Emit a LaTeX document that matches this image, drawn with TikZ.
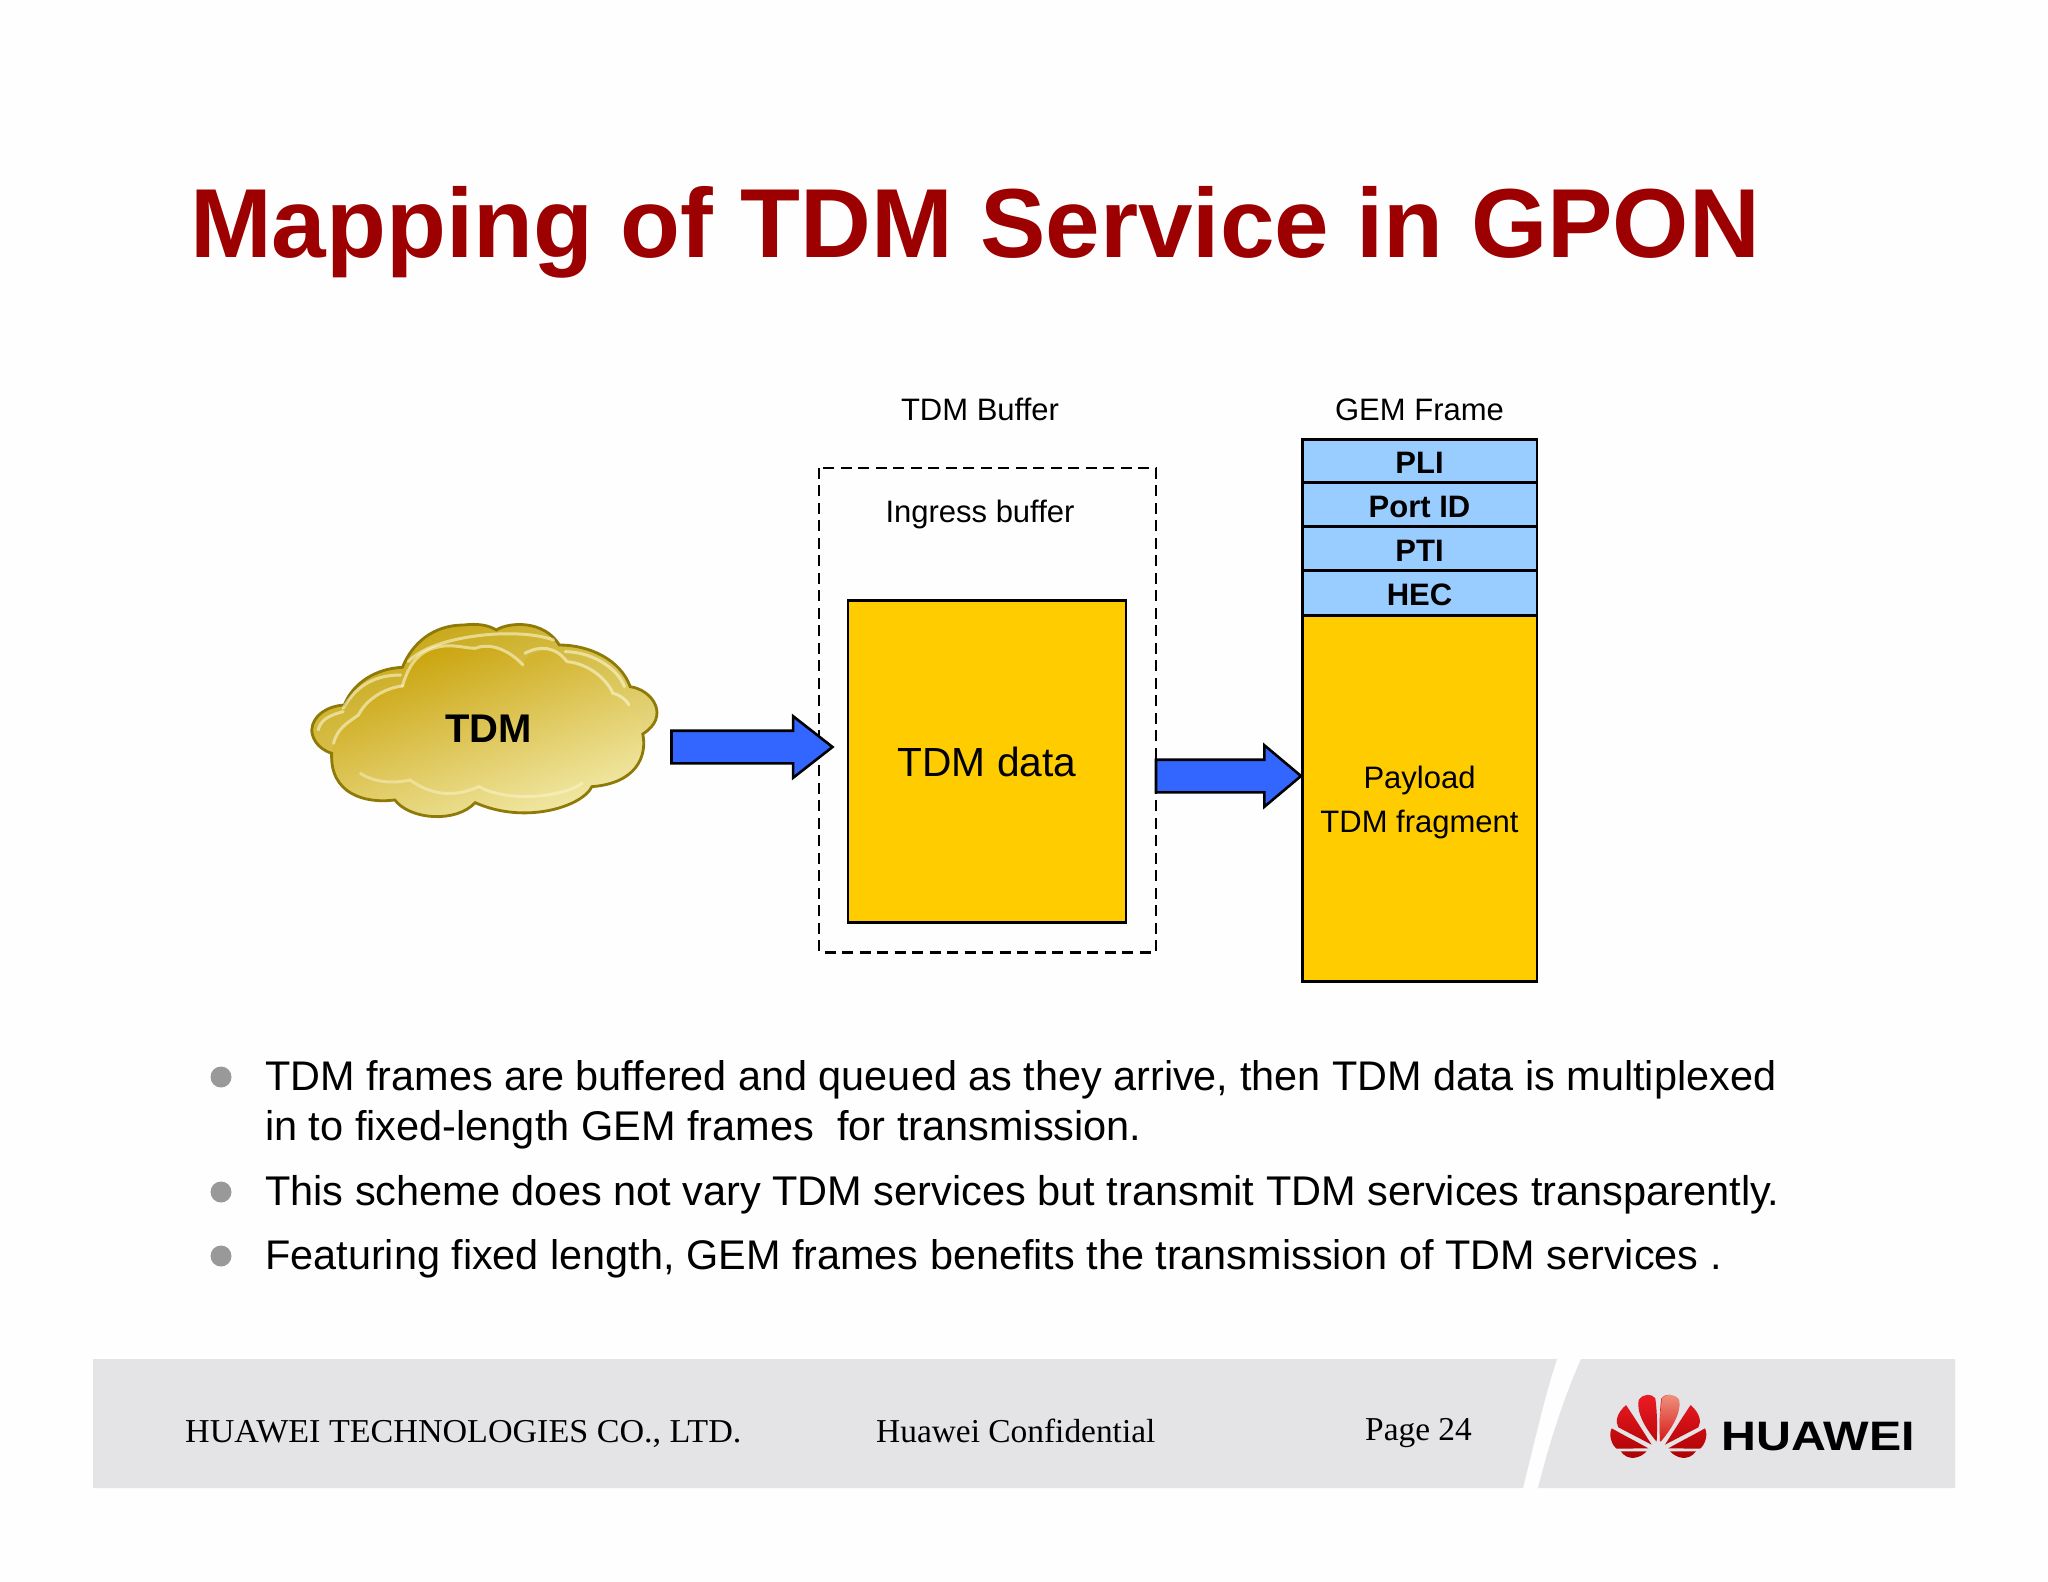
\documentclass[tikz,border=0pt]{standalone}
\usepackage{fontspec}
\setmainfont{Liberation Sans}
\newfontfamily\timesfont{Liberation Serif}
\usetikzlibrary{shapes.arrows}
\definecolor{titlered}{HTML}{9C0000}
\definecolor{gold}{HTML}{FFCC00}
\definecolor{skyb}{HTML}{99CCFF}
\definecolor{blockb}{HTML}{3366FF}
\definecolor{band}{HTML}{E4E3E6}
\definecolor{cloudline}{HTML}{8F7A08}
\definecolor{cloudA}{HTML}{C6A512}
\definecolor{cloudB}{HTML}{F0E7A4}
\definecolor{cloudC}{HTML}{C9A208}
\definecolor{cloudD}{HTML}{EEE394}
\definecolor{cloudE}{HTML}{F3ECAE}
\definecolor{cloudH}{HTML}{FFFDE0}
\definecolor{logoA}{HTML}{EE1C25}
\definecolor{logoB}{HTML}{A80000}
\definecolor{logoC}{HTML}{EE9580}
\definecolor{logoD}{HTML}{D81818}
\newcommand\fsz[1]{\fontsize{#1}{#1}\selectfont}
\newcommand\cloudOutline{(83,450) .. controls (85,405) and (125,378) .. (168,375)
  .. controls (190,310) and (250,265) .. (320,262)
  .. controls (345,190) and (400,135) .. (480,135)
  .. controls (515,130) and (545,135) .. (565,150)
  .. controls (600,125) and (690,120) .. (730,195)
  .. controls (810,195) and (890,240) .. (915,320)
  .. controls (975,330) and (1020,410) .. (948,462)
  .. controls (960,530) and (930,610) .. (815,620)
  .. controls (790,680) and (640,735) .. (510,668)
  .. controls (460,730) and (340,720) .. (300,660)
  .. controls (220,672) and (130,640) .. (135,520)
  .. controls (95,505) and (83,470) .. (83,450) -- cycle}
\newcommand\cloudBody{(140,490) .. controls (150,445) and (175,430) .. (205,405)
  .. controls (225,360) and (270,325) .. (320,318)
  .. controls (335,260) and (360,205) .. (430,198)
  .. controls (460,195) and (490,205) .. (510,205)
  .. controls (540,190) and (590,200) .. (635,255)
  .. controls (640,215) and (720,190) .. (750,245)
  .. controls (800,250) and (850,290) .. (870,340)
  .. controls (900,340) and (915,370) .. (920,400)
  .. controls (950,420) and (950,440) .. (948,462)
  .. controls (960,530) and (930,610) .. (815,620)
  .. controls (790,680) and (640,735) .. (510,668)
  .. controls (460,730) and (340,720) .. (300,660)
  .. controls (220,672) and (130,640) .. (135,520) -- cycle}
\newcommand\petalL{(445,325) .. controls (410,305) and (370,285) .. (335,265)
  .. controls (325,285) and (335,315) .. (350,326) -- cycle
  (455,314) .. controls (430,275) and (405,235) .. (378,195)
  .. controls (350,220) and (345,245) .. (355,262) -- cycle
  (470,305) .. controls (472,260) and (472,220) .. (466,175)
  .. controls (455,160) and (430,160) .. (416,180)
  .. controls (408,220) and (440,270) .. (470,305) -- cycle
  (362,334) -- (440,334) .. controls (420,355) and (385,365) .. (362,334) -- cycle}
\tikzset{
  boxgold/.style={draw=black,line width=2.8pt,fill=gold,inner sep=0pt,outer sep=0pt},
  boxsky/.style={draw=black,line width=2.8pt,fill=skyb,inner sep=0pt,outer sep=0pt},
  dashbox/.style={draw=black,line width=2.6pt,dash pattern=on 11pt off 6.5pt},
  blockarrow/.style={single arrow,anchor=tail,draw=black,line width=2.6pt,fill=blockb,inner sep=0pt,outer sep=0pt,single arrow head indent=0pt,text width=0pt},
  lab/.style={anchor=base,inner sep=0pt,font=\fsz{31}},
  labb/.style={anchor=base,inner sep=0pt,font=\fsz{31}\bfseries},
  para/.style={anchor=base west,inner sep=0pt,font=\fsz{41.4}},
  foot/.style={anchor=base west,inner sep=0pt,font=\timesfont\fsz{33.4}},
  dot/.style={circle,fill=black!40,minimum size=21pt,inner sep=0pt},
  hl/.style={draw=cloudH,line width=3pt,opacity=.55,line cap=round}
}
\begin{document}
\begin{tikzpicture}[x=1pt,y=-1pt]
\useasboundingbox (0,0) rectangle (2048,1582);
\fill[white!99.5!black] (0,0) rectangle (2048,1582);
% title
\node[anchor=base west,inner sep=0pt,text=titlered,font=\fsz{98.1}\bfseries] (title) at (190,257) {Mapping of TDM Service in GPON};
% cloud
\begin{scope}[shift={(280,580)},xscale=0.3827,yscale=0.3333]
  \shade[top color=cloudA,bottom color=cloudB,shading angle=20] \cloudOutline;
  \shade[top color=cloudC,middle color=cloudD,bottom color=cloudE,shading angle=20] \cloudBody;
  \draw[cloudline,line width=2.8pt] \cloudOutline;
  \draw[hl] (140,490) .. controls (150,445) and (175,430) .. (205,405)
     .. controls (225,360) and (270,325) .. (320,318);
  \draw[hl] (320,318) .. controls (335,260) and (360,205) .. (430,198)
     .. controls (460,195) and (490,205) .. (510,205)
     .. controls (540,190) and (590,200) .. (635,255);
  \draw[hl] (640,220) .. controls (680,195) and (720,200) .. (750,245)
     .. controls (800,250) and (850,290) .. (870,340) .. controls (890,345) and (905,360) .. (912,375);
  \draw[hl] (335,245) .. controls (400,165) and (620,140) .. (715,180);
  \draw[hl] (165,385) .. controls (200,315) and (250,285) .. (315,285);
  \draw[hl] (100,450) .. controls (105,420) and (130,405) .. (165,395);
  \draw[hl] (745,215) .. controls (810,215) and (880,260) .. (900,320);
  \draw[hl,opacity=.4] (210,580) .. controls (250,610) and (300,610) .. (340,600)
     .. controls (400,650) and (460,650) .. (520,620) .. controls (600,670) and (740,650) .. (790,610);
\end{scope}
\node[anchor=base,inner sep=0pt,font=\fsz{40}\bfseries] (tdm) at (488.5,742.3) {TDM};
% buffer
\node[lab] (bufT) at (980,420.5) {TDM Buffer};
\draw[dashbox] (819,467.8) rectangle (1156,952.2);
\node[lab] (ingress) at (980,522.5) {Ingress buffer};
\node[boxgold,minimum width=278pt,minimum height=322.5pt] (data) at (987,761.6) {};
\node[anchor=base,inner sep=0pt,font=\fsz{40.7}] (dataT) at (987,776.5) {TDM data};
% GEM frame
\node[lab] (gemT) at (1419.5,420.5) {GEM Frame};
\node[boxsky,minimum width=234.5pt,minimum height=43.2pt] (pli) at (1419.7,460.8) {};
\node[boxsky,minimum width=234.5pt,minimum height=44.1pt] (port) at (1419.7,504.45) {};
\node[boxsky,minimum width=234.5pt,minimum height=44.1pt] (pti) at (1419.7,548.55) {};
\node[boxsky,minimum width=234.5pt,minimum height=44.9pt] (hec) at (1419.7,593.05) {};
\node[boxgold,minimum width=234.5pt,minimum height=366.1pt] (payload) at (1419.7,798.55) {};
\node[labb] at (1419.5,473.5) {PLI};
\node[labb] at (1419.5,517.5) {Port ID};
\node[labb] at (1419.5,561) {PTI};
\node[labb] at (1419.5,605) {HEC};
\node[lab] (payA) at (1419.5,788) {Payload};
\node[lab] (payB) at (1419.5,832.5) {TDM fragment};
% arrows
\node[blockarrow,minimum height=161pt,text height=15pt,text depth=15pt,single arrow head extend=14.5pt,single arrow tip angle=76] (arrA) at (671.5,747) {};
\node[blockarrow,minimum height=145pt,text height=15pt,text depth=15pt,single arrow head extend=14.5pt,single arrow tip angle=80] (arrB) at (1156,776) {};
% bullets
\node[dot] (b1) at (221,1077) {};
\node[dot] (b2) at (221,1192) {};
\node[dot] (b3) at (221,1256) {};
\node[para] (t1) at (265,1090) {TDM frames are buffered and queued as they arrive, then TDM data is multiplexed};
\node[para,font=\fsz{41.5}] (t1b) at (265,1140) {in to fixed-length GEM frames\ \ for transmission.};
\node[para,font=\fsz{41.5}] (t2) at (265,1205) {This scheme does not vary TDM services but transmit TDM services transparently.};
\node[para] (t3) at (265,1269) {Featuring fixed length, GEM frames benefits the transmission of TDM services .};
% footer
\fill[band] (93,1359) -- (1557,1359) .. controls (1545,1395) and (1535,1440) .. (1523,1488) -- (93,1488) -- cycle;
\fill[band] (1581,1359) -- (1955,1359) -- (1955,1488) -- (1538,1488) .. controls (1550,1440) and (1565,1395) .. (1581,1359) -- cycle;
\node[foot,xscale=1.02] (f1) at (185,1442) {HUAWEI TECHNOLOGIES CO., LTD.};
\node[foot] (f2) at (876,1442) {Huawei Confidential};
\node[foot] (f3) at (1365,1440) {Page 24};
% logo
\begin{scope}[shift={(1500,1340)},scale=0.3333]
  \shade[top color=logoA,bottom color=logoB] \petalL;
  \begin{scope}[shift={(950,0)},xscale=-1]
    \shade[top color=logoA,bottom color=logoB] \petalL;
  \end{scope}
  \shade[top color=logoC,bottom color=logoD] (482,305) .. controls (480,260) and (480,220) .. (486,175)
  .. controls (497,160) and (525,160) .. (538,180)
  .. controls (545,220) and (512,270) .. (482,305) -- cycle;
\end{scope}
\node[anchor=base,inner sep=0pt,font=\fsz{42}\bfseries,xscale=1.15,yscale=0.98] (logo) at (1818.5,1450) {HUAWEI};
\end{tikzpicture}
\end{document}
